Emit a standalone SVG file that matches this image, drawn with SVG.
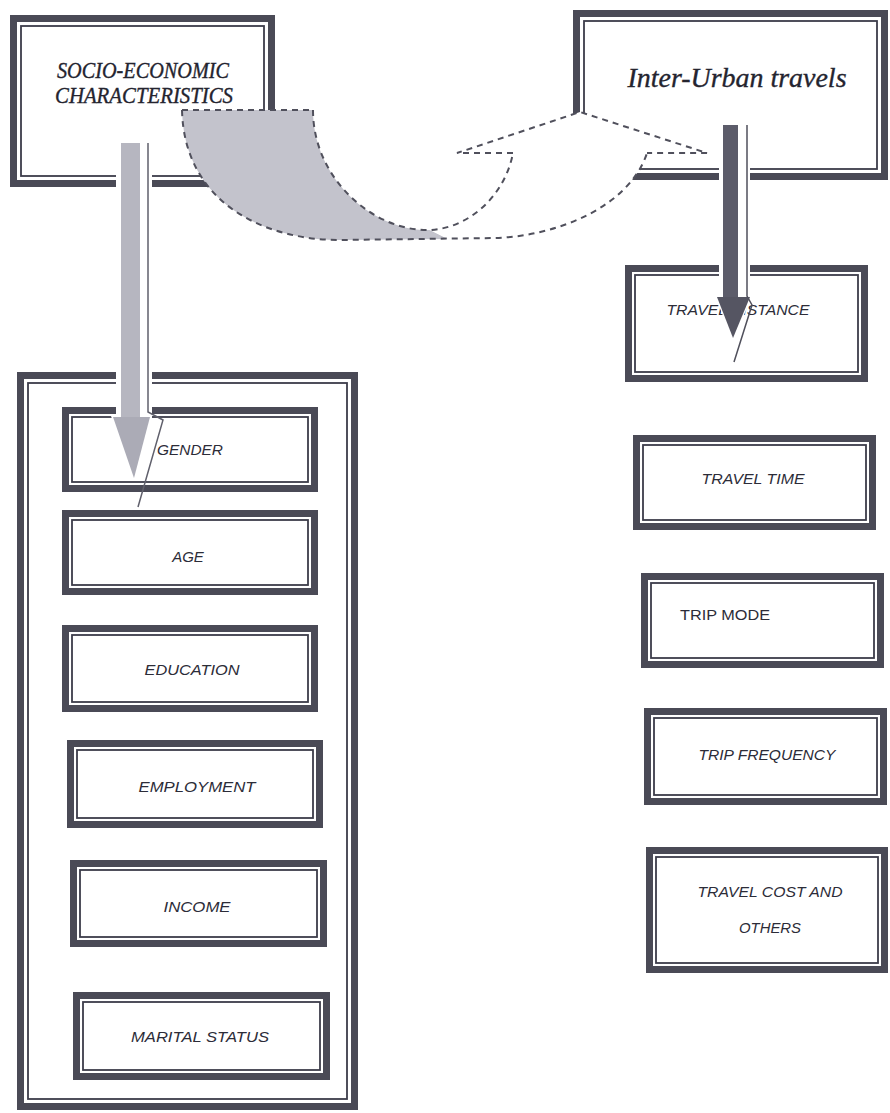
<svg xmlns="http://www.w3.org/2000/svg" width="890" height="1113" viewBox="0 0 890 1113">
<style>
.band{fill:none;stroke:#4a4a56;stroke-width:7}
.inner{fill:none;stroke:#3c3c4a;stroke-width:1.8}
.lbl{font-family:"Liberation Sans",Arial,sans-serif;font-style:italic;font-size:15px;fill:#2c2c38;text-anchor:middle}
.ttl{font-family:"Liberation Serif","Times New Roman",serif;font-style:italic;fill:#24242f;stroke:#24242f;stroke-width:0.35;text-anchor:middle}
.dash{fill:none;stroke:#50505c;stroke-width:2;stroke-dasharray:6 5}
</style>
<rect width="890" height="1113" fill="#ffffff"/>

<g id="socio">
<rect x="13.5" y="18.5" width="258" height="165" class="band"/>
<rect x="21" y="26" width="243" height="150" class="inner"/>
<text class="ttl" x="143" y="78" font-size="23" textLength="172" lengthAdjust="spacingAndGlyphs">SOCIO-ECONOMIC</text>
<text class="ttl" x="144" y="103" font-size="23" textLength="178" lengthAdjust="spacingAndGlyphs">CHARACTERISTICS</text>
</g>

<g id="inter">
<rect x="576.5" y="13.5" width="308" height="163" class="band"/>
<rect x="584" y="21" width="293" height="148" class="inner"/>
<text class="ttl" x="737" y="87" font-size="28" textLength="219" lengthAdjust="spacingAndGlyphs">Inter-Urban travels</text>
</g>

<g id="socio-group">
<rect x="20.5" y="375.5" width="334" height="731" class="band"/>
<rect x="28" y="383" width="319" height="716" class="inner"/>
</g>

<g id="gender">
<rect x="65.5" y="410.5" width="249" height="78" class="band"/>
<rect x="72" y="417" width="236" height="65" class="inner"/>
<text class="lbl" x="190" y="455" textLength="66" lengthAdjust="spacingAndGlyphs">GENDER</text>
</g>
<g id="age">
<rect x="65.5" y="513.5" width="249" height="78" class="band"/>
<rect x="72" y="520" width="236" height="65" class="inner"/>
<text class="lbl" x="188" y="562">AGE</text>
</g>
<g id="education">
<rect x="65.5" y="628.5" width="249" height="80" class="band"/>
<rect x="72" y="635" width="236" height="67" class="inner"/>
<text class="lbl" x="192" y="675" textLength="95" lengthAdjust="spacingAndGlyphs">EDUCATION</text>
</g>
<g id="employment">
<rect x="70.5" y="743.5" width="249" height="81" class="band"/>
<rect x="77" y="750" width="236" height="68" class="inner"/>
<text class="lbl" x="197" y="792" textLength="117" lengthAdjust="spacingAndGlyphs">EMPLOYMENT</text>
</g>
<g id="income">
<rect x="73.5" y="863.5" width="250" height="80" class="band"/>
<rect x="80" y="870" width="237" height="67" class="inner"/>
<text class="lbl" x="197" y="912" textLength="67" lengthAdjust="spacingAndGlyphs">INCOME</text>
</g>
<g id="marital">
<rect x="76.5" y="995.5" width="250" height="81" class="band"/>
<rect x="83" y="1002" width="237" height="68" class="inner"/>
<text class="lbl" x="200" y="1042" textLength="138" lengthAdjust="spacingAndGlyphs">MARITAL STATUS</text>
</g>

<g id="travel-distance">
<rect x="628.5" y="268.5" width="236" height="110" class="band"/>
<rect x="635" y="275" width="223" height="97" class="inner"/>
<text class="lbl" x="738" y="315" textLength="143" lengthAdjust="spacingAndGlyphs">TRAVEL DISTANCE</text>
</g>
<g id="travel-time">
<rect x="636.5" y="438.5" width="236" height="88" class="band"/>
<rect x="643" y="445" width="223" height="75" class="inner"/>
<text class="lbl" x="753" y="484" textLength="103" lengthAdjust="spacingAndGlyphs">TRAVEL TIME</text>
</g>
<g id="trip-mode">
<rect x="644.5" y="576.5" width="236" height="88" class="band"/>
<rect x="651" y="583" width="223" height="75" class="inner"/>
<text class="lbl" x="680" y="620" style="font-style:normal;text-anchor:start" textLength="90" lengthAdjust="spacingAndGlyphs">TRIP MODE</text>
</g>
<g id="trip-frequency">
<rect x="647.5" y="711.5" width="236" height="90" class="band"/>
<rect x="654" y="718" width="223" height="77" class="inner"/>
<text class="lbl" x="767" y="760" textLength="137" lengthAdjust="spacingAndGlyphs">TRIP FREQUENCY</text>
</g>
<g id="travel-cost">
<rect x="649.5" y="850.5" width="235" height="119" class="band"/>
<rect x="656" y="857" width="222" height="106" class="inner"/>
<text class="lbl" x="770" y="897" textLength="145" lengthAdjust="spacingAndGlyphs">TRAVEL COST AND</text>
<text class="lbl" x="770" y="933" textLength="62" lengthAdjust="spacingAndGlyphs">OTHERS</text>
</g>

<g id="connectors">
<path d="M182,110 L313,110 C313,180 375,232 430,230 L448,239 L340,240 C260,240 184,200 182,110 Z" fill="#c3c3cc"/>
<path d="M430,230 C470,228 505,195 513,153 L457,153 L580,112 L707,153 L647,153 C630,205 560,236 495,238 L448,239 Z" fill="#ffffff"/>
<path class="dash" d="M182,110 L313,110"/>
<path class="dash" d="M182,110 C184,200 260,240 340,240 L495,238 C560,236 630,205 647,153"/>
<path class="dash" d="M313,110 C313,180 375,232 430,230 C470,228 505,195 513,153"/>
<path class="dash" d="M513,153 L457,153 L580,112 L707,153 L647,153"/>

<rect x="116" y="140" width="36" height="278" fill="#ffffff"/>
<polygon points="111,416 152,416 134,481" fill="#ffffff"/>
<rect x="121" y="143" width="19" height="275" fill="#b6b6c0"/>
<polygon points="113,417 150,417 134,478" fill="#ababb6"/>
<path d="M148,143 L148,412 L163,420 L138,507" fill="none" stroke="#60606c" stroke-width="1.5"/>

<rect x="719" y="123" width="31" height="176" fill="#ffffff"/>
<polygon points="715,296 752,296 733,341" fill="#ffffff"/>
<rect x="723" y="125" width="15" height="173" fill="#5c5c6a"/>
<polygon points="717,297 750,297 733,338" fill="#555562"/>
<path d="M747,125 L747,296 L752,305 L734,362" fill="none" stroke="#50505c" stroke-width="1.5"/>
</g>
</svg>
